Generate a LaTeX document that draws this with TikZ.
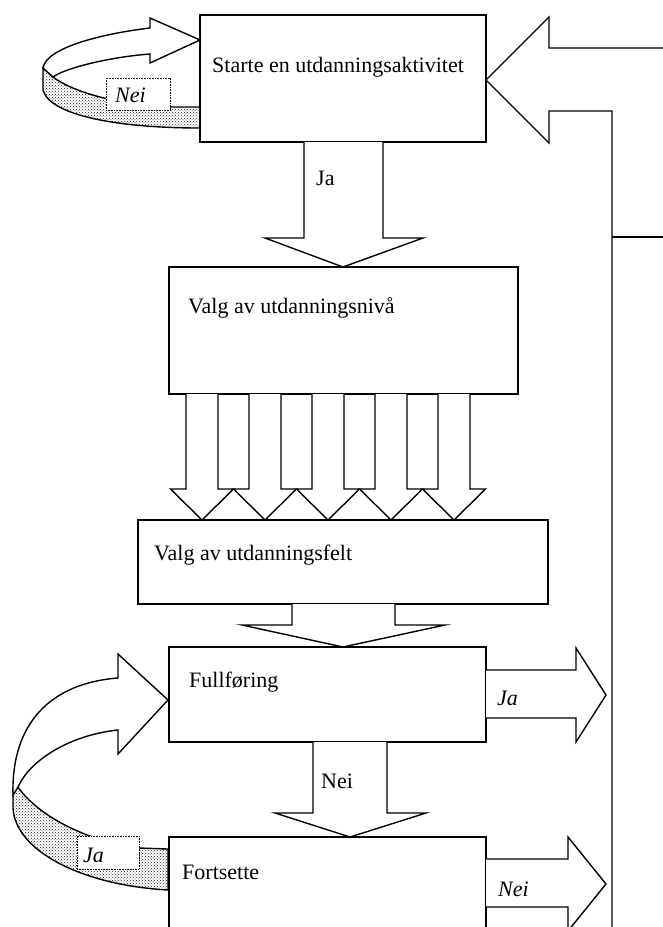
\documentclass[tikz,border=0pt]{standalone}
\usepackage{fontspec}
\setmainfont{Liberation Serif}
\usetikzlibrary{patterns}
\begin{document}
\begin{tikzpicture}[x=1pt,y=-1pt,
  box/.style={draw, line width=1.4pt, fill=white, anchor=north west, inner sep=0pt, outer sep=0pt},
  blk/.style={draw, line width=1.4pt, fill=white, line join=miter},
  ribbon/.style={draw, line width=1.4pt, fill=white, line join=miter},
  dotty/.style={draw, line width=1.4pt, pattern=crosshatch dots, pattern color=black!85},
  lbl/.style={anchor=base west, inner sep=0pt, font=\fontsize{22}{26}\selectfont},
  tag/.style={draw, densely dotted, line width=0.6pt, fill=white, inner sep=0pt}]
\useasboundingbox (0,0) rectangle (663,927);

% boxes
\node[box, minimum width=286pt, minimum height=127pt] (b1) at (200,15) {};
\node[box, minimum width=349pt, minimum height=127pt] (b2) at (169,267) {};
\node[box, minimum width=410pt, minimum height=84pt] (b3) at (138,520) {};
\node[box, minimum width=317pt, minimum height=95pt] (b4) at (169,647) {};
\node[box, minimum width=317pt, minimum height=130pt] (b5) at (169,837) {};

% texts in boxes
\node[lbl] (t1) at (212,72) {Starte en utdanningsaktivitet};
\node[lbl] (t2) at (188,313) {Valg av utdanningsnivå};
\node[lbl] (t3) at (154,560) {Valg av utdanningsfelt};
\node[lbl] (t4) at (189,687) {Fullføring};
\node[lbl] (t5) at (182,879) {Fortsette};

% big return arrow (right side)
\draw[line width=1.4pt, line join=miter] (663,48) -- (549,48) -- (549,17) -- (b1.east |- 0,80) -- (549,143) -- (549,111) -- (612,111) -- (612,940);
\coordinate (r1) at (612,237);
\coordinate (r2) at (663,237);
\draw[line width=1.4pt] (r1) -- (r2);

% down arrow b1 -> b2
\draw[blk] (304,142) -- (304,238) -- (265,238) -- (343,267) -- (423,238) -- (383,238) -- (383,142);
\node[lbl] (ja1) at (316,185) {Ja};

% five arrows b2 -> b3
\foreach \c in {202,265,328,391,454} {
  \draw[blk] (\c-16,394) -- (\c-16,489) -- (\c-31.5,489) -- (\c,520) -- (\c+31.5,489) -- (\c+16,489) -- (\c+16,394);
}

% arrow b3 -> b4
\draw[blk] (292,604) -- (292,625) -- (242,625) -- (343,647) -- (445,625) -- (395,625) -- (395,604);

% arrow b4 -> b5
\draw[blk] (313,742) -- (313,813) -- (275,813) -- (350,837) -- (426,813) -- (387,813) -- (387,742);
\node[lbl] (nei1) at (321,788) {Nei};

% right arrows
\draw[blk] (486,670) -- (576,670) -- (576,648) -- (606,695) -- (576,742) -- (576,718) -- (486,718);
\node[lbl] (ja2) at (497,705) {\itshape Ja};
\draw[blk] (486,859) -- (568,859) -- (568,837) -- (606,884) -- (568,931) -- (568,907) -- (486,907);
\node[lbl] (nei2) at (498,896) {\itshape Nei};

% top-left curved arrow (Nei)
\draw[dotty] (43,68) -- (53,77) .. controls (70,90) and (110,104) .. (170,107) -- (200,107)
  -- (200,128) .. controls (120,128) and (50,116) .. (43,90) -- cycle;
\draw[ribbon] (43,68) .. controls (46,48) and (100,34) .. (150,28) -- (150,18) -- (200,40)
  -- (150,63) -- (150,54) .. controls (110,57) and (65,68) .. (53,77) -- cycle;
\node[tag, minimum width=64pt, minimum height=32pt] (tagnei) at (138,94) {};
\node[lbl] (neitxt) at (115,102) {\itshape Nei};

% bottom-left curved arrow (Ja)
\draw[dotty] (13,795) -- (18,787) .. controls (35,812) and (80,840) .. (139,848) -- (168,849)
  -- (168,890) .. controls (80,885) and (15,850) .. (13,808) -- cycle;
\draw[ribbon] (13,795) .. controls (11,722) and (52,683) .. (118,678) -- (118,654) -- (168,700)
  -- (118,754) -- (118,730) .. controls (70,735) and (30,760) .. (18,787) -- cycle;
\node[tag, minimum width=62pt, minimum height=33pt] (tagja) at (108,852.5) {};
\node[lbl] (jatxt) at (83,862) {\itshape Ja};
\end{tikzpicture}
\end{document}
